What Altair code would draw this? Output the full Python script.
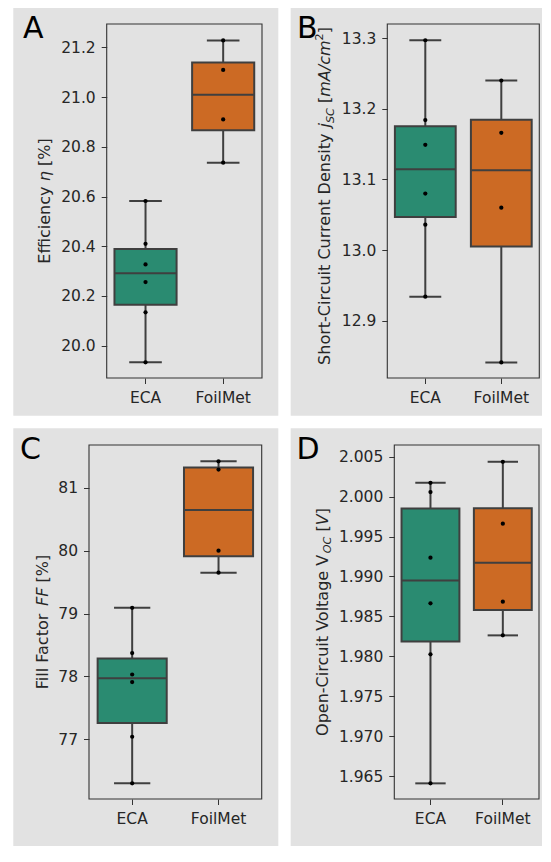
import altair as alt
import pandas as pd

# ---------------- data ----------------
GROUPS = ["ECA", "FoilMet"]
BOX_COLORS = ["#2a8b71", "#cc6a24"]

eff_eca = [20.582, 20.410, 20.327, 20.256, 20.134, 19.933]
eff_foil = [21.228, 21.109, 20.910, 20.736]
jsc_eca = [13.297, 13.184, 13.149, 13.080, 13.036, 12.934]
jsc_foil = [13.240, 13.166, 13.060, 12.841]
ff_eca = [79.09, 78.37, 78.03, 77.91, 77.04, 76.30]
ff_foil = [81.42, 81.29, 80.00, 79.65]
voc_eca = [2.00174, 2.00057, 1.99235, 1.98663, 1.98024, 1.96408]
voc_foil = [2.00437, 1.99661, 1.98684, 1.98262]

eff_ticks = [20.0, 20.2, 20.4, 20.6, 20.8, 21.0, 21.2]
jsc_ticks = [12.9, 13.0, 13.1, 13.2, 13.3]
ff_ticks = [77, 78, 79, 80, 81]
voc_ticks = [1.965, 1.970, 1.975, 1.980, 1.985, 1.990, 1.995, 2.000, 2.005]

eff_domain = [19.870, 21.294]
jsc_domain = [12.819, 13.320]
ff_domain = [76.05, 81.68]
voc_domain = [1.96212, 2.00647]

# ---------------- style / layout ----------------
FONT = "DejaVu Sans"
BG = "#e2e2e2"
EDGE = "#3f3f3f"
TXT = "#262626"
FRAME = "#333333"
CANVAS_W, CANVAS_H = 534, 838

CW = {' ': 0.318, '-': 0.361, '[': 0.390, ']': 0.390, '%': 0.950, '/': 0.337, '.': 0.318,
      'A': 0.684, 'C': 0.698, 'D': 0.770, 'E': 0.632, 'F': 0.575, 'O': 0.787, 'S': 0.635,
      'V': 0.684, 'a': 0.613, 'c': 0.550, 'e': 0.615, 'f': 0.352, 'g': 0.635, 'h': 0.634,
      'i': 0.278, 'j': 0.278, 'l': 0.278, 'm': 0.974, 'n': 0.634, 'o': 0.612, 'p': 0.635,
      'r': 0.411, 's': 0.521, 't': 0.392, 'u': 0.634, 'y': 0.592, 'η': 0.634}
for d in "0123456789":
    CW[d] = 0.636

ONE = alt.Data(values=[{"k": 0}])


def tw(s, size):
    return sum(CW.get(c, 0.6) for c in s) * size


def text_mark(t, x, y, size, italic=False, color=TXT, angle=270):
    return alt.Chart(ONE).mark_text(
        text=t, angle=angle, align="left", baseline="alphabetic", font=FONT,
        fontSize=size, fontStyle="italic" if italic else "normal", color=color
    ).encode(x=alt.value(x), y=alt.value(y))


def title_layers(pieces, base_x, center_y):
    total = sum(tw(t, s) for t, it, s, sh in pieces)
    y = center_y + total / 2
    out = []
    for t, it, s, sh in pieces:
        w = tw(t, s)
        if t.strip():
            lead = tw(t[: len(t) - len(t.lstrip())], s)
            out.append(text_mark(t.strip(), base_x + sh, y - lead, s, it))
        y -= w
    return out


def make_panel(eca, foil, domain, ticks, fmt, panel_box, plot_box, pieces, title_x,
               title_cy, letter, letter_xy):
    px0, py0, px1, py1 = panel_box
    qx0, qy0, qx1, qy1 = plot_box
    step = (qx1 - qx0) / 2
    boxw = 0.8 * step
    capw = 0.42 * step

    df = pd.DataFrame({
        "group": [GROUPS[0]] * len(eca) + [GROUPS[1]] * len(foil),
        "value": list(eca) + list(foil),
    })
    base = alt.Chart(df)
    xenc = alt.X("group:N",
                 scale=alt.Scale(domain=GROUPS, range=[qx0, qx1], paddingInner=0,
                                 paddingOuter=0),
                 axis=alt.Axis(title=None, orient="bottom", offset=-(CANVAS_H - qy1),
                               labelAngle=0, bandPosition=0.5, labelPadding=7, zindex=1,
                               grid=False, domain=False))
    yscale = alt.Scale(domain=domain, range=[qy1, qy0], nice=False, zero=False)
    yaxis = alt.Axis(title=None, orient="left", offset=-qx0, values=ticks, format=fmt,
                     labelPadding=6, zindex=1, grid=False, domain=False)

    def Y(f):
        return alt.Y(f, type="quantitative", scale=yscale, axis=yaxis, title=None)

    def Y2(f):
        return alt.Y2(f, title=None)

    agg = base.transform_aggregate(
        lo="min(value)", hi="max(value)", q1="q1(value)", q3="q3(value)",
        med="median(value)", groupby=["group"])

    bg = alt.Chart(ONE).mark_rect(color=BG).encode(
        x=alt.value(px0), x2=alt.value(px1), y=alt.value(py0), y2=alt.value(py1))
    frame = alt.Chart(ONE).mark_rect(fillOpacity=0, stroke=FRAME, strokeWidth=1.1).encode(
        x=alt.value(qx0), x2=alt.value(qx1), y=alt.value(qy0), y2=alt.value(qy1))

    whisk = agg.mark_rule(color=EDGE, strokeWidth=2, opacity=1).encode(
        x=xenc, y=Y("lo"), y2=Y2("hi"))
    cap_lo = agg.mark_tick(color=EDGE, size=capw, thickness=2, opacity=1).encode(
        x=xenc, y=Y("lo"))
    cap_hi = agg.mark_tick(color=EDGE, size=capw, thickness=2, opacity=1).encode(
        x=xenc, y=Y("hi"))
    box = agg.mark_bar(size=boxw, stroke=EDGE, strokeWidth=2, opacity=1).encode(
        x=xenc, y=Y("q1"), y2=Y2("q3"),
        color=alt.Color("group:N", scale=alt.Scale(domain=GROUPS, range=BOX_COLORS),
                        legend=None))
    med = agg.mark_tick(color=EDGE, size=boxw, thickness=2, opacity=1).encode(
        x=xenc, y=Y("med"))
    pts = base.mark_circle(size=18, color="black", opacity=1).encode(
        x=xenc, y=Y("value"))

    titles = title_layers(pieces, title_x, title_cy)
    lx, ly = letter_xy
    let = text_mark(letter, lx, ly, 30, False, "#000000", angle=0)

    return alt.layer(bg, frame, whisk, cap_lo, cap_hi, box, med, pts, *titles, let)


N, I = False, True
# canvas coordinates (page coordinates minus the 8px page margin)
A = make_panel(eff_eca, eff_foil, eff_domain, eff_ticks, ".1f",
               (5.3, 0, 270.3, 407.7), (98.7, 16, 254, 370),
               [("Efficiency ", N, 16, 0), ("η", I, 16, 0), (" [%]", N, 16, 0)],
               42, 193, "A", (15, 29.5))
B = make_panel(jsc_eca, jsc_foil, jsc_domain, jsc_ticks, ".1f",
               (282.7, 0, CANVAS_W, 407.7), (379.3, 16, 531.3, 370),
               [("Short-Circuit Current Density ", N, 16, 0), ("j", I, 16, 0),
                ("SC", I, 11.2, 3.5), (" ", N, 16, 0), ("[", N, 16, 0),
                ("mA/cm", I, 16, 0), ("2", N, 11.2, -7), ("]", N, 16, 0)],
               322, 188, "B", (289, 29.5))
C = make_panel(ff_eca, ff_foil, ff_domain, ff_ticks, "d",
               (5.3, 420.3, 270.3, CANVAS_H), (81, 437, 253.7, 791),
               [("Fill Factor ", N, 16, 0), ("FF", I, 16, 0), (" [%]", N, 16, 0)],
               40.3, 614, "C", (12, 450.5))
D = make_panel(voc_eca, voc_foil, voc_domain, voc_ticks, ".3f",
               (282.7, 420.3, CANVAS_W, CANVAS_H), (386.3, 437, 531, 791),
               [("Open-Circuit Voltage V", N, 16, 0), ("OC", I, 11.2, 3.5),
                (" [", N, 16, 0), ("V", I, 16, 0), ("]", N, 16, 0)],
               319.7, 614, "D", (288.4, 450.5))

chart = alt.layer(A, B, C, D).resolve_scale(
    x="independent", y="independent", color="independent"
).resolve_axis(x="independent", y="independent").properties(
    width=CANVAS_W, height=CANVAS_H, padding=0, background="white",
).configure_view(stroke=None).configure_axis(
    labelFont=FONT, labelFontSize=15.5, labelColor=TXT, tickColor=FRAME, tickWidth=1,
    tickSize=5.5, domain=False, grid=False)

chart.save("out.html", embed_options={"renderer": "svg", "actions": False})
